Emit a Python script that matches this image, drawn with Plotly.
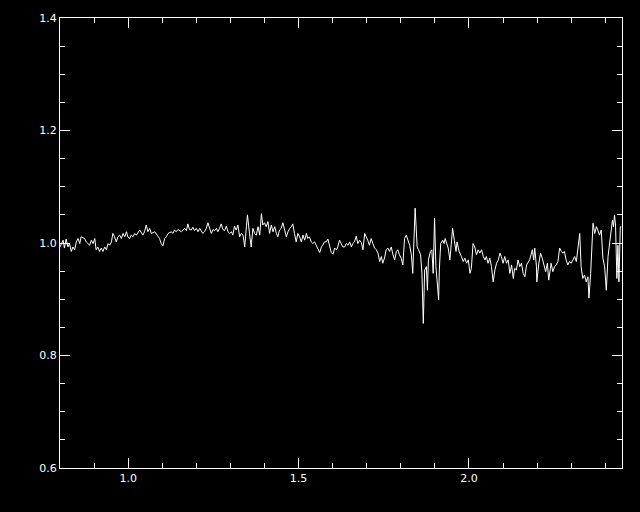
import plotly.graph_objects as go

wavelength = [
    0.800, 0.809, 0.813, 0.818, 0.823, 0.828, 0.833, 0.838, 0.843, 0.848,
    0.853, 0.858, 0.862, 0.872, 0.877, 0.887, 0.892, 0.897, 0.902, 0.906,
    0.911, 0.916, 0.921, 0.926, 0.931, 0.936, 0.941, 0.946, 0.951, 0.955,
    0.960, 0.965, 0.970, 0.975, 0.980, 0.985, 0.990, 0.995, 0.999, 1.004,
    1.009, 1.014, 1.019, 1.024, 1.034, 1.039, 1.043, 1.048, 1.053, 1.058,
    1.063, 1.068, 1.078, 1.085, 1.092, 1.097, 1.102, 1.107, 1.112, 1.117,
    1.127, 1.131, 1.136, 1.141, 1.146, 1.156, 1.166, 1.171, 1.175, 1.180,
    1.185, 1.190, 1.195, 1.200, 1.205, 1.210, 1.215, 1.219, 1.224, 1.229,
    1.234, 1.239, 1.244, 1.249, 1.254, 1.259, 1.263, 1.268, 1.273, 1.278,
    1.283, 1.288, 1.293, 1.298, 1.303, 1.307, 1.312, 1.317, 1.322, 1.327,
    1.332, 1.337, 1.342, 1.347, 1.350, 1.356, 1.361, 1.366, 1.371, 1.376,
    1.381, 1.386, 1.391, 1.395, 1.400, 1.405, 1.410, 1.415, 1.420, 1.425,
    1.430, 1.435, 1.439, 1.444, 1.449, 1.454, 1.459, 1.464, 1.469, 1.474,
    1.479, 1.483, 1.488, 1.493, 1.498, 1.503, 1.508, 1.513, 1.518, 1.523,
    1.527, 1.532, 1.537, 1.542, 1.547, 1.552, 1.557, 1.562, 1.567, 1.571,
    1.576, 1.581, 1.586, 1.591, 1.596, 1.601, 1.606, 1.611, 1.615, 1.620,
    1.625, 1.630, 1.635, 1.640, 1.645, 1.650, 1.655, 1.659, 1.664, 1.669,
    1.674, 1.679, 1.684, 1.689, 1.694, 1.699, 1.703, 1.708, 1.713, 1.718,
    1.723, 1.728, 1.733, 1.738, 1.743, 1.747, 1.752, 1.757, 1.762, 1.767,
    1.772, 1.777, 1.782, 1.787, 1.791, 1.796, 1.801, 1.806, 1.811, 1.816,
    1.821, 1.826, 1.831, 1.835, 1.842, 1.848, 1.852, 1.858, 1.862, 1.866,
    1.870, 1.875, 1.878, 1.881, 1.887, 1.891, 1.895, 1.899, 1.903, 1.907,
    1.911, 1.913, 1.917, 1.923, 1.927, 1.930, 1.934, 1.939, 1.944, 1.949,
    1.952, 1.957, 1.962, 1.965, 1.971, 1.978, 1.983, 1.988, 1.993, 1.998,
    2.003, 2.007, 2.012, 2.017, 2.022, 2.027, 2.032, 2.037, 2.042, 2.047,
    2.051, 2.056, 2.061, 2.066, 2.071, 2.076, 2.081, 2.086, 2.091, 2.095,
    2.100, 2.105, 2.110, 2.115, 2.120, 2.125, 2.130, 2.134, 2.139, 2.144,
    2.149, 2.154, 2.159, 2.164, 2.169, 2.178, 2.186, 2.190, 2.193, 2.198,
    2.199, 2.205, 2.210, 2.215, 2.219, 2.225, 2.230, 2.234, 2.239, 2.241,
    2.246, 2.251, 2.256, 2.261, 2.266, 2.271, 2.276, 2.280, 2.285, 2.290,
    2.295, 2.300, 2.305, 2.310, 2.315, 2.320, 2.325, 2.329, 2.334, 2.339,
    2.344, 2.349, 2.352, 2.357, 2.361, 2.364, 2.369, 2.374, 2.378, 2.383,
    2.388, 2.393, 2.398, 2.403, 2.408, 2.413, 2.418, 2.421, 2.424, 2.427,
    2.430, 2.434, 2.437, 2.440, 2.444, 2.447,
]

flux = [
    0.993, 1.005, 0.991, 1.007, 0.993, 0.999, 0.985, 0.993, 0.988, 1.002,
    1.008, 0.999, 1.011, 1.008, 1.002, 0.996, 1.005, 0.999, 1.008, 0.988,
    0.993, 0.985, 0.991, 0.985, 0.993, 0.988, 0.999, 0.996, 1.002, 1.017,
    1.011, 1.002, 1.011, 1.014, 1.008, 1.017, 1.011, 1.020, 1.011, 1.008,
    1.014, 1.011, 1.017, 1.014, 1.023, 1.017, 1.014, 1.020, 1.032, 1.020,
    1.026, 1.017, 1.020, 1.014, 1.008, 0.999, 0.995, 1.008, 1.011, 1.017,
    1.020, 1.017, 1.023, 1.020, 1.024, 1.020, 1.026, 1.022, 1.034, 1.024,
    1.023, 1.028, 1.022, 1.026, 1.020, 1.026, 1.022, 1.017, 1.020, 1.026,
    1.036, 1.026, 1.017, 1.024, 1.022, 1.026, 1.020, 1.026, 1.034, 1.024,
    1.022, 1.030, 1.020, 1.017, 1.020, 1.014, 1.030, 1.023, 1.032, 1.011,
    1.017, 1.014, 0.993, 1.029, 1.050, 1.017, 0.993, 1.026, 1.017, 1.014,
    1.029, 1.014, 1.052, 1.032, 1.036, 1.029, 1.038, 1.017, 1.032, 1.020,
    1.029, 1.017, 1.011, 1.023, 1.026, 1.036, 1.020, 1.011, 1.020, 1.026,
    1.029, 1.034, 1.017, 1.002, 1.017, 1.011, 1.002, 1.014, 1.005, 1.017,
    1.008, 1.011, 1.002, 0.999, 1.002, 0.996, 0.991, 0.983, 0.993, 0.996,
    1.002, 1.002, 1.007, 0.993, 0.983, 0.980, 0.991, 0.988, 0.993, 1.005,
    0.999, 0.993, 0.993, 0.999, 0.996, 1.002, 0.993, 0.999, 1.002, 1.012,
    0.999, 1.005, 1.001, 0.988, 1.017, 1.011, 1.005, 0.996, 1.008, 0.999,
    0.991, 0.988, 0.982, 0.967, 0.976, 0.964, 0.973, 0.988, 0.991, 0.985,
    0.993, 0.979, 0.970, 0.985, 0.988, 0.979, 0.973, 0.961, 1.008, 1.014,
    1.005, 0.996, 0.979, 0.946, 1.062, 0.993, 0.988, 0.979, 0.946, 0.857,
    0.952, 0.958, 0.916, 0.970, 0.985, 0.988, 0.946, 1.044, 0.958, 0.934,
    0.899, 0.952, 0.999, 1.005, 0.999, 1.008, 1.002, 0.991, 0.970, 1.017,
    1.026, 1.005, 0.985, 1.002, 0.985, 0.976, 0.967, 0.973, 0.964, 0.970,
    0.946, 0.955, 0.999, 0.993, 0.979, 0.988, 0.982, 0.988, 0.976, 0.970,
    0.976, 0.964, 0.973, 0.958, 0.931, 0.952, 0.964, 0.970, 0.982, 0.976,
    0.964, 0.976, 0.964, 0.970, 0.946, 0.961, 0.937, 0.955, 0.952, 0.970,
    0.958, 0.964, 0.946, 0.940, 0.961, 0.970, 0.988, 0.970, 0.991, 0.958,
    0.931, 0.964, 0.982, 0.973, 0.964, 0.949, 0.964, 0.934, 0.955, 0.964,
    0.949, 0.958, 0.961, 0.967, 0.991, 0.985, 0.982, 0.985, 0.970, 0.961,
    0.967, 0.964, 0.970, 0.976, 0.967, 0.993, 1.017, 0.958, 0.937, 0.943,
    0.931, 0.940, 0.902, 0.946, 1.005, 1.035, 1.017, 1.029, 1.023, 1.014,
    1.023, 0.973, 0.958, 0.916, 0.976, 0.999, 1.032, 1.041, 1.029, 1.050,
    1.032, 0.937, 0.996, 0.931, 1.029, 1.029,
]

x_range = [0.80, 2.449]
y_range = [0.6, 1.4]
x_tick_values = [1.0, 1.5, 2.0]
x_tick_labels = ["1.0", "1.5", "2.0"]
y_tick_values = [0.6, 0.8, 1.0, 1.2, 1.4]
y_tick_labels = ["0.6", "0.8", "1.0", "1.2", "1.4"]

fig = go.Figure()
fig.add_trace(go.Scatter(
    x=wavelength, y=flux, mode="lines",
    line=dict(color="white", width=1),
    showlegend=False, hoverinfo="skip",
))

axis_common = dict(
    showgrid=False, zeroline=False,
    showline=True, linecolor="white", linewidth=1,
    mirror="ticks", ticks="inside", ticklen=10, tickwidth=1, tickcolor="white",
    tickfont=dict(family="DejaVu Sans", size=11, color="white"),
)

fig.update_xaxes(
    range=x_range, tickmode="array", tickvals=x_tick_values, ticktext=x_tick_labels,
    minor=dict(dtick=0.1, tick0=0.8, ticks="inside", ticklen=5, tickcolor="white", tickwidth=1),
    **axis_common,
)
fig.update_yaxes(
    range=y_range, tickmode="array", tickvals=y_tick_values, ticktext=y_tick_labels,
    minor=dict(dtick=0.05, tick0=0.6, ticks="inside", ticklen=5, tickcolor="white", tickwidth=1),
    **axis_common,
)

fig.update_layout(
    width=640, height=512,
    paper_bgcolor="black", plot_bgcolor="black",
    margin=dict(l=60, r=18, t=18, b=44),
)

page_style = (
    "document.body.style.margin='0';"
    "document.body.style.padding='0';"
    "document.body.style.background='black';"
    "document.body.style.overflow='hidden';"
)

fig.write_html("out.html", post_script=page_style,
               config={"displayModeBar": False, "staticPlot": True})
